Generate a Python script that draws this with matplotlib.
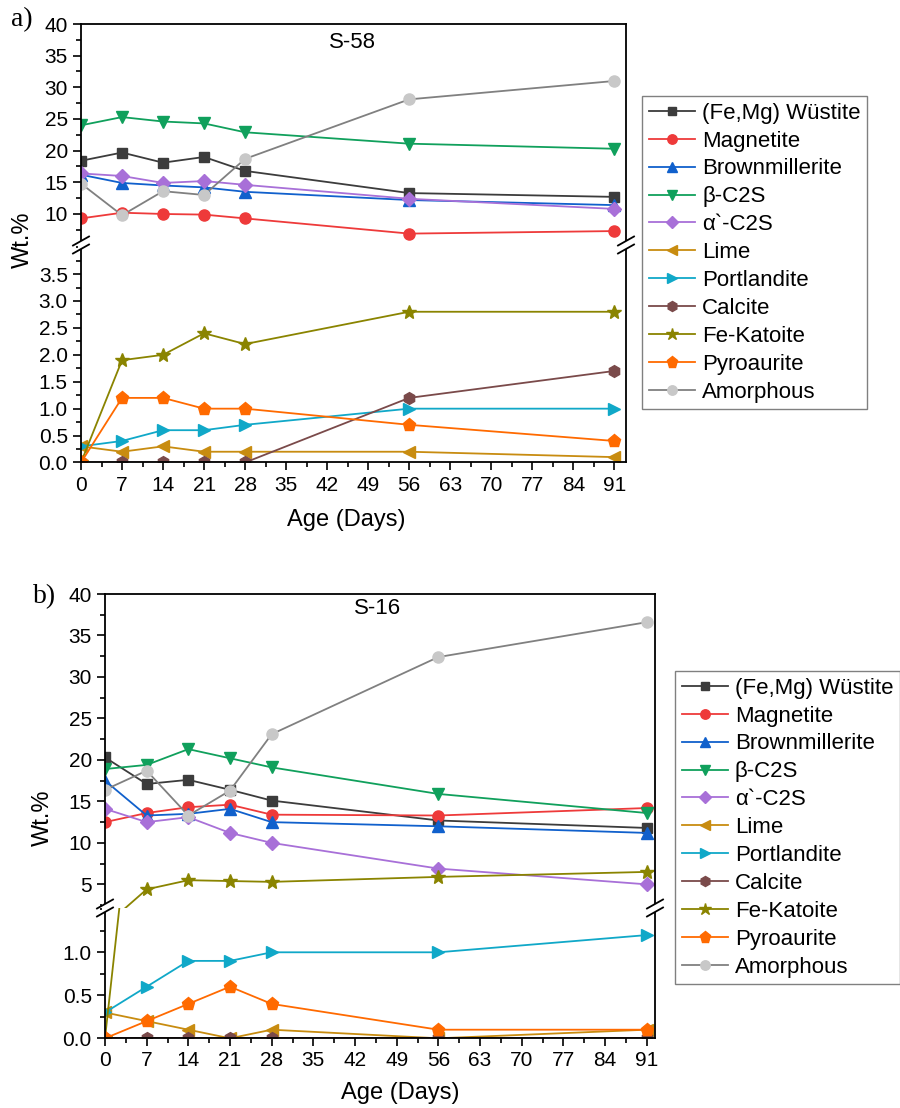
import matplotlib
matplotlib.use('Agg')
import matplotlib.pyplot as plt
from matplotlib.ticker import MultipleLocator, FixedLocator
from matplotlib.lines import Line2D
from matplotlib.patches import Rectangle

plt.rcParams['font.family'] = ['Liberation Sans', 'DejaVu Sans']

# ---------------- data ----------------
days = [0, 7, 14, 21, 28, 56, 91]
x_ticks = [0, 7, 14, 21, 28, 35, 42, 49, 56, 63, 70, 77, 84, 91]

phases = ['(Fe,Mg) Wüstite', 'Magnetite', 'Brownmillerite', 'β-C2S', 'α`-C2S',
          'Lime', 'Portlandite', 'Calcite', 'Fe-Katoite', 'Pyroaurite', 'Amorphous']

# S-58
a_wustite = [18.4, 19.7, 18.1, 19.0, 16.8, 13.3, 12.7]
a_magnetite = [9.3, 10.2, 10.0, 9.9, 9.3, 6.9, 7.3]
a_brownmillerite = [16.2, 14.9, 14.5, 14.2, 13.5, 12.2, 11.4]
a_bc2s = [24.0, 25.3, 24.6, 24.3, 22.9, 21.1, 20.3]
a_ac2s = [16.4, 16.0, 14.9, 15.2, 14.6, 12.4, 10.8]
a_lime = [0.3, 0.2, 0.3, 0.2, 0.2, 0.2, 0.1]
a_portlandite = [0.3, 0.4, 0.6, 0.6, 0.7, 1.0, 1.0]
a_calcite = [0.0, 0.0, 0.0, 0.0, 0.0, 1.2, 1.7]
a_katoite = [0.0, 1.9, 2.0, 2.4, 2.2, 2.8, 2.8]
a_pyroaurite = [0.0, 1.2, 1.2, 1.0, 1.0, 0.7, 0.4]
a_amorphous = [14.8, 9.8, 13.6, 13.0, 18.7, 28.1, 31.0]

# S-16
b_wustite = [20.3, 17.1, 17.6, 16.4, 15.1, 12.7, 11.8]
b_magnetite = [12.5, 13.6, 14.3, 14.6, 13.4, 13.3, 14.2]
b_brownmillerite = [17.5, 13.3, 13.5, 14.1, 12.5, 12.0, 11.2]
b_bc2s = [18.9, 19.4, 21.3, 20.2, 19.1, 15.9, 13.6]
b_ac2s = [14.1, 12.5, 13.1, 11.2, 10.0, 6.9, 5.0]
b_lime = [0.3, 0.2, 0.1, 0.0, 0.1, 0.0, 0.1]
b_portlandite = [0.3, 0.6, 0.9, 0.9, 1.0, 1.0, 1.2]
b_calcite = [0.0, 0.0, 0.0, 0.0, 0.0, 0.0, 0.0]
b_katoite = [0.0, 4.4, 5.5, 5.4, 5.3, 5.9, 6.5]
b_pyroaurite = [0.0, 0.2, 0.4, 0.6, 0.4, 0.1, 0.1]
b_amorphous = [16.4, 18.7, 13.3, 16.3, 23.1, 32.4, 36.6]

series_a = [a_wustite, a_magnetite, a_brownmillerite, a_bc2s, a_ac2s, a_lime,
            a_portlandite, a_calcite, a_katoite, a_pyroaurite, a_amorphous]
series_b = [b_wustite, b_magnetite, b_brownmillerite, b_bc2s, b_ac2s, b_lime,
            b_portlandite, b_calcite, b_katoite, b_pyroaurite, b_amorphous]

# ---------------- styles ----------------
line_colors = ['#3c3c3c', '#ee3a3a', '#1060cc', '#10a05c', '#a870d8', '#c88c10',
               '#10a8c8', '#7a4a4a', '#8a8400', '#ff6a00', '#808080']
face_colors = ['#3c3c3c', '#ee3a3a', '#1060cc', '#10a05c', '#a870d8', '#c88c10',
               '#10a8c8', '#7a4a4a', '#8a8400', '#ff6a00', '#c8c8c8']
markers = ['s', 'o', '^', 'v', 'D', '<', '>', 'h', '*', 'p', 'o']
msizes = [7.5, 8, 8, 8, 7, 8.5, 8.5, 8.5, 10.5, 9.5, 8]

W, H = 900, 1108
fig = plt.figure(figsize=(W / 100, H / 100), dpi=100)


def fx(px):
    return px / W


def fy(py):
    return 1 - py / H


def break_marks(xpix, ypix):
    # white gap on spine + two slanted lines
    fig.add_artist(Rectangle((fx(xpix - 3), fy(ypix + 4)), 6 / W, 8 / H,
                             transform=fig.transFigure, facecolor='white',
                             edgecolor='none', zorder=20))
    for dy in (-4, 4):
        fig.add_artist(Line2D([fx(xpix - 8), fx(xpix + 8)],
                              [fy(ypix + dy + 4.5), fy(ypix + dy - 4.5)],
                              transform=fig.transFigure, color='black', lw=1.3,
                              zorder=21))


def panel(series, left, right, top, brk, bottom, ylim_up, ylim_lo, xmax,
          up_major, lo_major, lo_minor, title, title_xy, letter, letter_xy,
          ylab_xy, xlab_xy, leg_xy):
    ax_up = fig.add_axes([fx(left), fy(brk), fx(right) - fx(left), fy(top) - fy(brk)])
    ax_lo = fig.add_axes([fx(left), fy(bottom), fx(right) - fx(left), fy(brk) - fy(bottom)])
    handles = []
    for i, vals in enumerate(series):
        for ax in (ax_up, ax_lo):
            ln, = ax.plot(days, vals, marker=markers[i], color=line_colors[i],
                          mfc=face_colors[i], mec=face_colors[i], ms=msizes[i],
                          lw=1.3, label=phases[i], clip_on=True)
            if ax is ax_up:
                handles.append(ln)
    for ax in (ax_up, ax_lo):
        ax.set_xlim(0, xmax)
        ax.xaxis.set_major_locator(FixedLocator(x_ticks))
        ax.xaxis.set_minor_locator(MultipleLocator(3.5))
        ax.tick_params(which='both', direction='out', top=False, right=False,
                       labelsize=15, width=1.2, colors='black')
        ax.tick_params(which='major', length=6)
        ax.tick_params(which='minor', length=3.5)
        for s in ax.spines.values():
            s.set_linewidth(1.3)
    ax_up.set_ylim(*ylim_up)
    ax_up.yaxis.set_major_locator(MultipleLocator(up_major))
    ax_up.yaxis.set_minor_locator(MultipleLocator(up_major / 2))
    ax_up.spines['bottom'].set_visible(False)
    ax_up.tick_params(which='both', bottom=False, labelbottom=False)
    ax_lo.set_ylim(*ylim_lo)
    ax_lo.yaxis.set_major_locator(FixedLocator(lo_major))
    ax_lo.yaxis.set_major_formatter(plt.FuncFormatter(lambda v, p: f'{v:.1f}'))
    ax_lo.yaxis.set_minor_locator(MultipleLocator(lo_minor))
    ax_lo.spines['top'].set_visible(False)

    break_marks(left, brk)
    break_marks(right, brk)

    fig.text(fx(title_xy[0]), fy(title_xy[1]), title, ha='center', va='center', fontsize=16)
    fig.text(fx(letter_xy[0]), fy(letter_xy[1]), letter, ha='center', va='center',
             fontsize=20, family=['Liberation Serif', 'DejaVu Serif'])
    fig.text(fx(ylab_xy[0]), fy(ylab_xy[1]), 'Wt.%', ha='center', va='center',
             rotation=90, fontsize=17)
    fig.text(fx(xlab_xy[0]), fy(xlab_xy[1]), 'Age (Days)', ha='center', va='center',
             fontsize=17)
    leg = fig.legend(handles=handles, loc='upper left',
                     bbox_to_anchor=(fx(leg_xy[0]), fy(leg_xy[1])),
                     bbox_transform=fig.transFigure, fontsize=16, frameon=True,
                     fancybox=False, edgecolor='#808080', framealpha=1,
                     handlelength=2.1, handletextpad=0.3, labelspacing=0.31,
                     borderpad=0.3, borderaxespad=0, markerscale=0.85)
    leg.get_frame().set_linewidth(1.0)


panel(series_a, left=81, right=626, top=24, brk=245, bottom=462.5,
      ylim_up=(5.1, 40), ylim_lo=(0, 4.04), xmax=93,
      up_major=5, lo_major=[0, 0.5, 1.0, 1.5, 2.0, 2.5, 3.0, 3.5], lo_minor=0.25,
      title='S-58', title_xy=(352, 42), letter='a)', letter_xy=(22, 20),
      ylab_xy=(23, 240), xlab_xy=(346, 520), leg_xy=(642, 96))

panel(series_b, left=105, right=655, top=594, brk=908, bottom=1038.3,
      ylim_up=(2.15, 40), ylim_lo=(0, 1.515), xmax=92.4,
      up_major=5, lo_major=[0, 0.5, 1.0], lo_minor=0.25,
      title='S-16', title_xy=(378, 609), letter='b)', letter_xy=(45, 597),
      ylab_xy=(43, 818), xlab_xy=(400, 1093), leg_xy=(675, 671))

fig.savefig('out.png', dpi=100)
